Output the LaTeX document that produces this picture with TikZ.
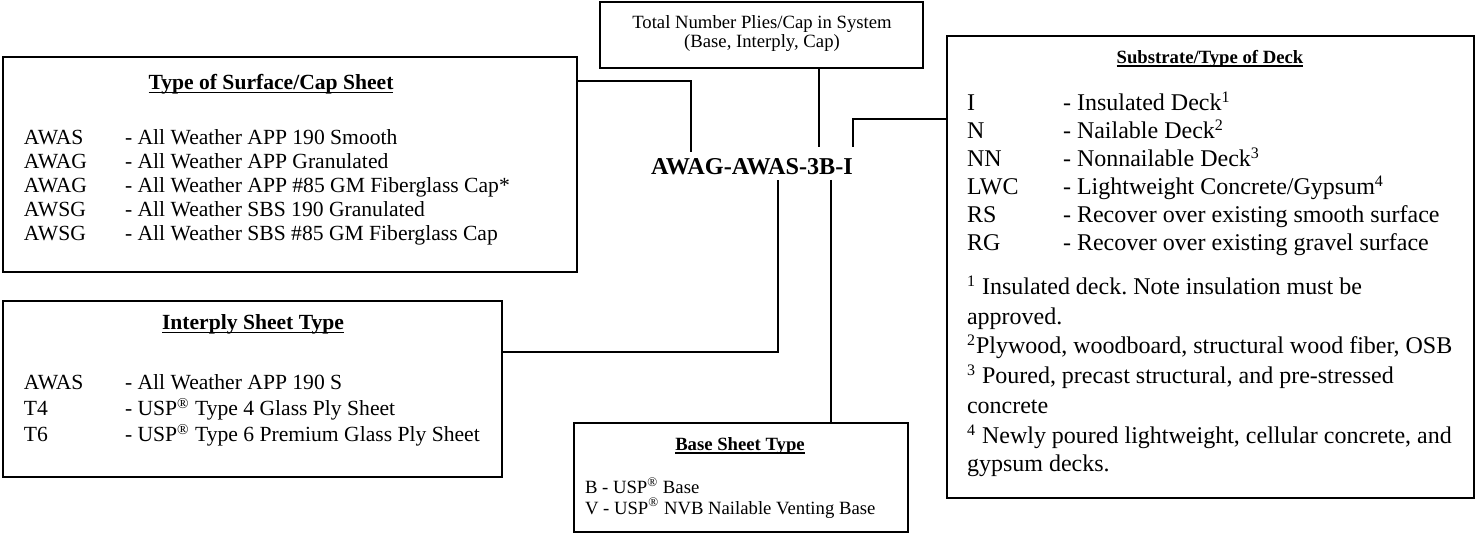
\documentclass[tikz,border=0pt]{standalone}
\usepackage{fontspec}
\setmainfont{Liberation Serif}
\frenchspacing
\newcommand{\fA}{\fontsize{10.8}{12.4}\selectfont}
\newcommand{\fB}{\fontsize{12}{13.8}\selectfont}
\newcommand{\fC}{\fontsize{9.35}{10.8}\selectfont}
\newcommand{\fD}{\fontsize{12.1}{14}\selectfont\bfseries}
\newsavebox\ulbox
\newcommand{\thickul}[1]{\sbox\ulbox{#1}\usebox\ulbox\llap{\rule[-0.16em]{\wd\ulbox}{0.08em}}}
\tikzset{
  box/.style={draw=black, line width=1pt, inner sep=0pt, outer sep=0pt, fill=white},
  conn/.style={draw=black, line width=1.1pt},
  txt/.style={anchor=base west, inner sep=0pt, outer sep=0pt},
  ttl/.style={anchor=base, inner sep=0pt, outer sep=0pt},
}
\begin{document}
\begin{tikzpicture}[x=0.5pt,y=-0.5pt]
\useasboundingbox (0,0) rectangle (1476,533);
% boxes
\node[box, minimum width=287pt, minimum height=107.5pt] (surf) at (290,165) {};
\node[box, minimum width=249.5pt, minimum height=88pt] (inter) at (252.5,389) {};
\node[box, minimum width=161.5pt, minimum height=33pt] (top) at (761.5,35) {};
\node[box, minimum width=263.5pt, minimum height=231pt] (deck) at (1210,267) {};
\node[box, minimum width=167pt, minimum height=54.5pt] (base) at (740.5,477.5) {};
% central code
\node[ttl] (code) at (752,175) {\fD AWAG-AWAS-3B-I};
\coordinate (tS) at (691,152);
\coordinate (tT) at (819,147);
\coordinate (tI) at (853,147);
\coordinate (tA) at (778,180);
\coordinate (tB) at (831,180);
% connectors
\draw[conn] (surf.east |- 0,81) -| (tS);
\draw[conn] (top.south -| tT) -- (tT);
\draw[conn] (tI) |- (deck.west |- 0,119);
\draw[conn] (inter.east |- 0,352) -| (tA);
\draw[conn] (tB) -- (base.north -| tB);
% surface box
\node[ttl] (surfT) at (271,90) {\fA\bfseries\thickul{Type of Surface/Cap Sheet}};
\node[txt] (s1a) at (24,145) {\fA AWAS};
\node[txt] (s1b) at (125,145) {\fA - All Weather APP 190 Smooth};
\node[txt] (s2a) at (24,169) {\fA AWAG};
\node[txt] (s2b) at (125,169) {\fA - All Weather APP Granulated};
\node[txt] (s3a) at (24,193) {\fA AWAG};
\node[txt] (s3b) at (125,193) {\fA - All Weather APP \#85 GM Fiberglass Cap*};
\node[txt] (s4a) at (24,217) {\fA AWSG};
\node[txt] (s4b) at (125,217) {\fA - All Weather SBS 190 Granulated};
\node[txt] (s5a) at (24,241) {\fA AWSG};
\node[txt] (s5b) at (125,241) {\fA - All Weather SBS \#85 GM Fiberglass Cap};
% interply box
\node[ttl] (interT) at (253,330) {\fA\bfseries\thickul{Interply Sheet Type}};
\node[txt] (i1a) at (24,390) {\fA AWAS};
\node[txt] (i1b) at (125,390) {\fA - All Weather APP 190 S};
\node[txt] (i2a) at (24,416) {\fA T4};
\node[txt] (i2b) at (125,416) {\fA - USP\textsuperscript{®} Type 4 Glass Ply Sheet};
\node[txt] (i3a) at (24,442) {\fA T6};
\node[txt] (i3b) at (125,442) {\fA - USP\textsuperscript{®} Type 6 Premium Glass Ply Sheet};
% top box
\node[ttl] (top1) at (762,29) {\fC Total Number Plies/Cap in System};
\node[ttl] (top2) at (762,48) {\fC (Base, Interply, Cap)};
% base box
\node[ttl] (baseT) at (740,451) {\fC\bfseries\thickul{Base Sheet Type}};
\node[txt] (b1) at (585,494) {\fC B - USP\textsuperscript{®} Base};
\node[txt] (b2) at (585,514) {\fC V - USP\textsuperscript{®} NVB Nailable Venting Base};
% deck box
\node[ttl] (deckT) at (1210,64) {\fC\bfseries\thickul{Substrate/Type of Deck}};
\node[txt] (d1a) at (967,111) {\fB I};
\node[txt] (d1b) at (1063,111) {\fB - Insulated Deck\textsuperscript{1}};
\node[txt] (d2a) at (967,139) {\fB N};
\node[txt] (d2b) at (1063,139) {\fB - Nailable Deck\textsuperscript{2}};
\node[txt] (d3a) at (967,167) {\fB NN};
\node[txt] (d3b) at (1063,167) {\fB - Nonnailable Deck\textsuperscript{3}};
\node[txt] (d4a) at (967,195) {\fB LWC};
\node[txt] (d4b) at (1063,195) {\fB - Lightweight Concrete/Gypsum\textsuperscript{4}};
\node[txt] (d5a) at (967,223) {\fB RS};
\node[txt] (d5b) at (1063,223) {\fB - Recover over existing smooth surface};
\node[txt] (d6a) at (967,251) {\fB RG};
\node[txt] (d6b) at (1063,251) {\fB - Recover over existing gravel surface};
\node[txt] (f1) at (967,295) {\fB \textsuperscript{1} Insulated deck. Note insulation must be};
\node[txt] (f1b) at (967,325) {\fB approved.};
\node[txt] (f2) at (967,354) {\fB \textsuperscript{2}Plywood, woodboard, structural wood fiber, OSB};
\node[txt] (f3) at (967,384) {\fB \textsuperscript{3} Poured, precast structural, and pre-stressed};
\node[txt] (f3b) at (967,414) {\fB concrete};
\node[txt] (f4) at (967,444) {\fB \textsuperscript{4} Newly poured lightweight, cellular concrete, and};
\node[txt] (f4b) at (967,472) {\fB gypsum decks.};
\end{tikzpicture}
\end{document}
